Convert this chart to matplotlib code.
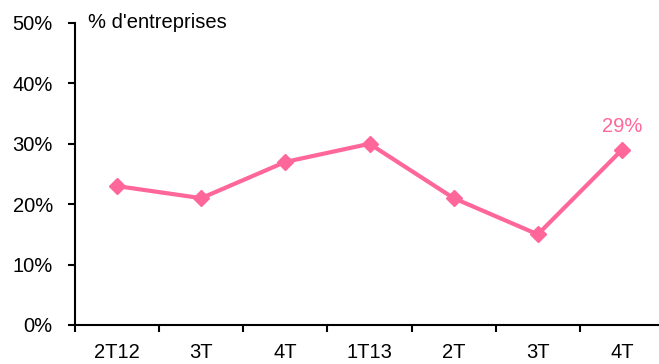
import matplotlib.pyplot as plt
import matplotlib.ticker as ticker
import numpy as np

categories = ["2T12", "3T", "4T", "1T13", "2T", "3T", "4T"]
values = [23, 21, 27, 30, 21, 15, 29]
pink = "#FF6699"


def main():
    plt.rcParams['font.family'] = ['Liberation Sans', 'DejaVu Sans']
    fig = plt.figure(figsize=(6.59, 3.64), dpi=100)
    ax = fig.add_axes([75 / 659, 39 / 364, 589 / 659, 302 / 364])

    x = np.arange(len(categories))
    ax.plot(x, values, color=pink, linewidth=3, marker='D', markersize=8.5,
            clip_on=False, zorder=3)
    ax.annotate(f"{values[-1]}%", (x[-1], values[-1]), xytext=(0, 10),
                textcoords='offset points', ha='center', va='bottom',
                color=pink, fontsize=14.5)

    ax.set_xlim(-0.5, len(categories) - 0.5)
    ax.set_ylim(0, 50)
    ax.yaxis.set_major_locator(ticker.MultipleLocator(10))
    ax.yaxis.set_major_formatter(ticker.FuncFormatter(lambda v, p: f"{v:.0f}%"))

    ax.set_xticks(x)
    ax.set_xticklabels(categories)
    ax.set_xticks(np.arange(-0.5, len(categories)), minor=True)
    ax.tick_params(axis='x', which='major', length=0, pad=13, labelsize=14.5)
    ax.tick_params(axis='x', which='minor', length=5, width=1.5, direction='out')
    ax.tick_params(axis='y', length=5, width=1.5, direction='out', pad=11, labelsize=14.5)

    for side in ['top', 'right']:
        ax.spines[side].set_visible(False)
    for side in ['left', 'bottom']:
        ax.spines[side].set_linewidth(1.5)

    ax.text(0.022, 1.0, "% d'entreprises", transform=ax.transAxes,
            ha='left', va='center', fontsize=14.5)

    fig.savefig("out.png", dpi=100)


if __name__ == "__main__":
    main()
